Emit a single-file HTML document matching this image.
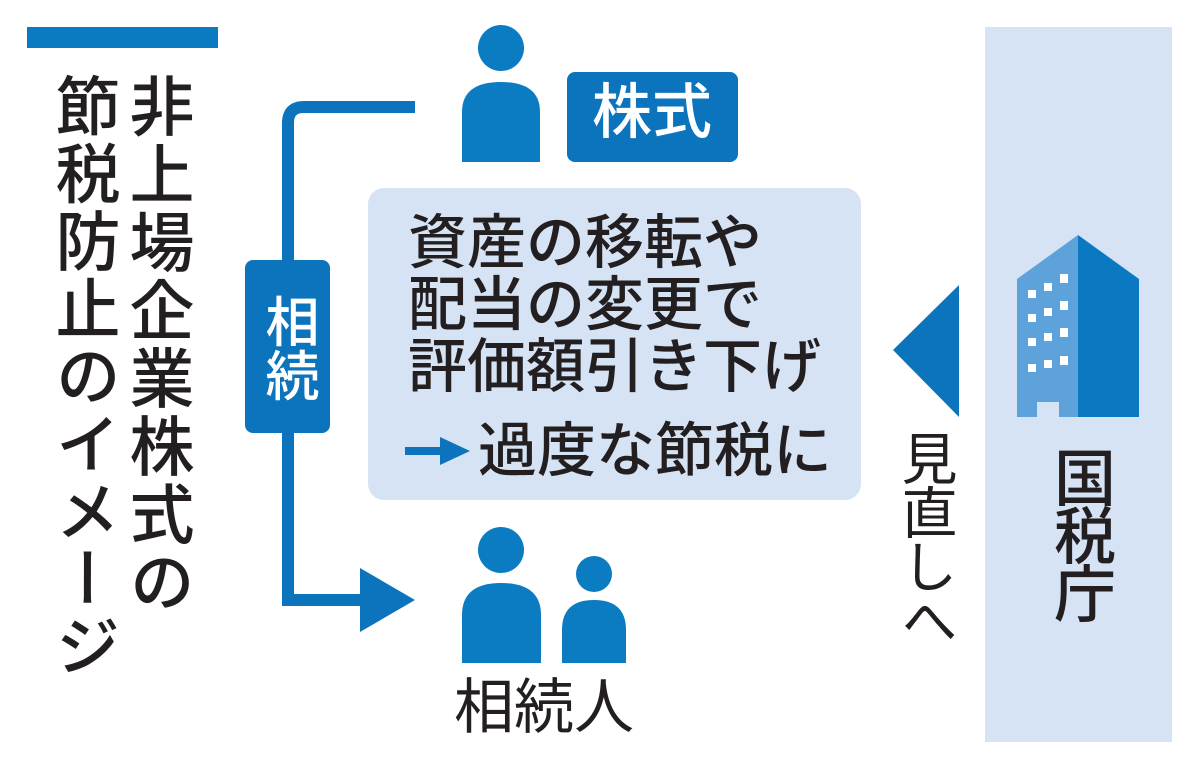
<!DOCTYPE html>
<html><head><meta charset="utf-8">
<style>
body{margin:0;width:1200px;height:770px;background:#fff;position:relative;overflow:hidden;font-family:"Liberation Sans","Noto Sans CJK JP",sans-serif;color:#231f20}
.a{position:absolute}
.v{writing-mode:vertical-rl;text-orientation:upright;line-height:1;white-space:nowrap}
</style></head><body>
<div class="a" style="left:27px;top:27px;width:191px;height:21px;background:#0b7bc1"></div>
<div class="a v" style="left:124px;top:73px;font-size:65px;letter-spacing:3px;font-weight:500">非上場企業株式の</div>
<div class="a v" style="left:50px;top:73px;font-size:65px;letter-spacing:2.5px;font-weight:500">節税防止のイメージ</div>

<svg class="a" style="left:0;top:0" width="1200" height="770">
<path d="M415 107 H304 Q288 107 288 123 V600 H370" fill="none" stroke="#0b74bc" stroke-width="12"/>
<polygon points="360,568 415,600 360,632" fill="#0b74bc"/>
<rect x="245" y="260" width="85" height="173" rx="8" fill="#0b74bc"/>
<circle cx="501" cy="48" r="23" fill="#0b7bc2"/>
<path d="M462 162 V112 Q462 82 501 82 Q540 82 540 112 V162 Z" fill="#0b7bc2"/>
<rect x="567" y="72" width="171" height="90" rx="8" fill="#0b74bc"/>
<rect x="368" y="188" width="493" height="312" rx="16" fill="#d5e3f5"/>
<path d="M405 451 H445" stroke="#0b74bc" stroke-width="8"/>
<polygon points="440,437 470,451 440,465" fill="#0b74bc"/>
<circle cx="501" cy="550" r="23" fill="#0b7bc2"/>
<path d="M462 663 V615 Q462 583 501 583 Q541 583 541 615 V663 Z" fill="#0b7bc2"/>
<circle cx="594" cy="574" r="18" fill="#0b7bc2"/>
<path d="M562 663 V630 Q562 600 594 600 Q626 600 626 630 V663 Z" fill="#0b7bc2"/>
<polygon points="893,350 959,285 959,417" fill="#0b74bc"/>
<rect x="985" y="27" width="187" height="715" fill="#d5e3f5"/>
<polygon points="1017,279 1078,235 1078,417 1017,417" fill="#5ea2dc"/>
<polygon points="1078,235 1139,279 1139,417 1078,417" fill="#0b78c2"/>
<rect x="1037" y="402" width="22" height="15" fill="#d5e3f5"/>
<g fill="#fff">
<rect x="1028" y="290" width="8" height="8"/><rect x="1044" y="283" width="8" height="8"/><rect x="1060" y="274" width="8" height="9"/>
<rect x="1028" y="314" width="8" height="8"/><rect x="1044" y="308" width="8" height="8"/><rect x="1060" y="301" width="8" height="9"/>
<rect x="1028" y="338" width="8" height="8"/><rect x="1044" y="333" width="8" height="8"/><rect x="1060" y="328" width="8" height="9"/>
<rect x="1028" y="364" width="8" height="8"/><rect x="1044" y="360" width="8" height="8"/><rect x="1060" y="356" width="8" height="9"/>
</g>
</svg>

<div class="a v" style="left:260px;top:294px;font-size:54px;font-weight:500;color:#fff;letter-spacing:0px">相続</div>
<div class="a" style="left:592px;top:83px;font-size:60px;font-weight:500;color:#fff;line-height:1">株式</div>
<div class="a" style="left:408px;top:212px;font-size:59px;line-height:62px;white-space:nowrap;font-weight:500">資産の移転や<br>配当の変更で<br>評価額引き下げ</div>
<div class="a" style="left:478px;top:420px;font-size:59px;line-height:62px;white-space:nowrap;font-weight:500">過度な節税に</div>
<div class="a" style="left:454px;top:677px;font-size:60px;line-height:62px">相続人</div>
<div class="a v" style="left:897px;top:430px;font-size:56px;letter-spacing:-2px">見直しへ</div>
<div class="a v" style="left:1047px;top:446px;font-size:62px;letter-spacing:-4px;font-weight:500">国税庁</div>
</body></html>
